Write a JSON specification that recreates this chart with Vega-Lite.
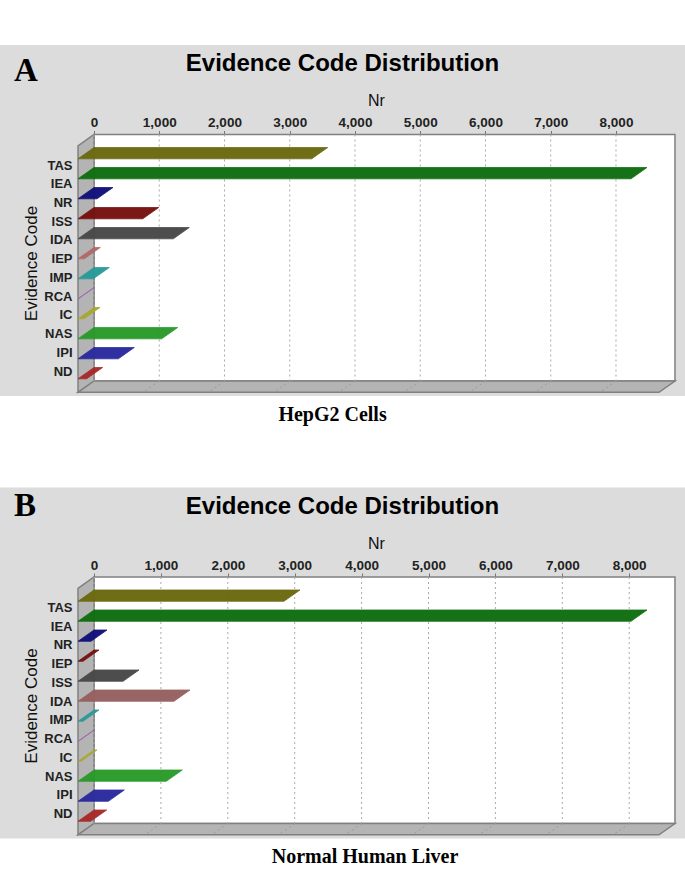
{
"$schema":"https://vega.github.io/schema/vega-lite/v6.json",
"background":"white",
"padding":{"left":0,"top":45,"right":0,"bottom":0},
"spacing":62.5,
"resolve":{"scale":{"color":"independent","stroke":"independent"}},
"config":{"view":{"fill":"#dcdcdc","stroke":null},"font":"Liberation Sans"},
"datasets":{"ticks":[{"tick":0},{"tick":1000},{"tick":2000},{"tick":3000},{"tick":4000},{"tick":5000},{"tick":6000},{"tick":7000},{"tick":8000}]},
"vconcat":[
{"width":685,"height":351,
"title":{"text":"Evidence Code Distribution","font":"Liberation Sans","fontSize":24,"fontWeight":"bold","color":"#000000","anchor":"middle","orient":"top","offset":-31},
"resolve":{"scale":{"y":"independent"}},
"layer":[
{"layer":[
{"data":{"values":[{"part":"back wall"}]},"mark":{"type":"rect","fill":"#ffffff","stroke":"#808080","strokeWidth":1.5},
 "encoding":{"x":{"datum":0,"type":"quantitative","scale":{"domain":[-1440.6,9057.5],"zero":false,"nice":false},"axis":{"orient":"top","offset":-89.5,"values":[0,1000,2000,3000,4000,5000,6000,7000,8000],"labelExpr":"format(datum.value, ',')","title":"Nr","titleFont":"Liberation Sans","titleFontSize":16,"titleFontWeight":"normal","titleColor":"#111111","titlePadding":7,"titleX":376,"labelFont":"Liberation Sans","labelFontSize":13.5,"labelFontWeight":"bold","labelColor":"#222222","labelPadding":1,"tickSize":4,"tickColor":"#777777","domain":false,"grid":false,"labelOverlap":false}},
 "x2":{"datum":8904},
 "y":{"datum":0.35,"type":"quantitative","scale":{"domain":[13.425,-4.125],"zero":false,"nice":false},"axis":null},"y2":{"datum":12.675}}},
{"data":{"values":[{"nr":-245,"a":0.915,"b":13.24},{"nr":0,"a":0.35,"b":12.675}]},"mark":{"type":"area","orient":"vertical","fill":"#b4b4b4","stroke":"#808080","strokeWidth":1.5},
 "encoding":{"x":{"field":"nr","type":"quantitative"},"y":{"field":"a","type":"quantitative","axis":null},"y2":{"field":"b"}}},
{"data":{"values":[{"v":12.675,"a":0,"b":8904},{"v":13.24,"a":-245,"b":8659}]},"mark":{"type":"area","orient":"horizontal","fill":"#b4b4b4","stroke":"#808080","strokeWidth":1.5},
 "encoding":{"y":{"field":"v","type":"quantitative","axis":null},"x":{"field":"a","type":"quantitative"},"x2":{"field":"b"}}},
{"data":{"name":"ticks"},"mark":{"type":"rule","color":"#aaaaaa","strokeDash":[2,3],"strokeWidth":1},
 "encoding":{"x":{"field":"tick","type":"quantitative"},"y":{"datum":0.35,"type":"quantitative","axis":null},"y2":{"datum":12.675}}},
{"data":{"name":"ticks"},"transform":[{"filter":"datum.tick>0"},{"calculate":"datum.tick-245","as":"front"}],"mark":{"type":"rule","color":"#999999","strokeDash":[2,3],"strokeWidth":1},
 "encoding":{"x":{"field":"tick","type":"quantitative"},"x2":{"field":"front"},"y":{"datum":12.675,"type":"quantitative","axis":null},"y2":{"datum":13.24}}},
{"data":{"values":[{"code":"TAS","nr":3582},{"code":"IEA","nr":8475},{"code":"NR","nr":291},{"code":"ISS","nr":992},{"code":"IDA","nr":1461},{"code":"IEP","nr":97},{"code":"IMP","nr":235},{"code":"RCA","nr":5},{"code":"IC","nr":92},{"code":"NAS","nr":1283},{"code":"IPI","nr":618},{"code":"ND","nr":133}]},
 "transform":[{"window":[{"op":"row_number","as":"row"}]},{"calculate":"[0,1]","as":"edge"},{"flatten":["edge"]},{"calculate":"datum.row+datum.edge*0.565","as":"by"},{"calculate":"datum.edge*-245","as":"bx"},{"calculate":"datum.nr+datum.bx","as":"bx2"}],
 "mark":{"type":"area","orient":"horizontal","opacity":0.97,"strokeWidth":0.8},
 "encoding":{"y":{"field":"by","type":"quantitative","axis":null},"x":{"field":"bx","type":"quantitative"},"x2":{"field":"bx2"},
 "color":{"field":"code","type":"nominal","legend":null,"scale":{"domain":["TAS","IEA","NR","ISS","IDA","IEP","IMP","RCA","IC","NAS","IPI","ND"],"range":["#6b6a10","#0f6e0f","#10107a","#761010","#484848","#b06a6a","#2a9a9a","#a060b0","#a8a830","#2a9a2a","#2a2a9e","#a82a2a"]}},
 "stroke":{"field":"code","type":"nominal","legend":null,"scale":{"domain":["TAS","IEA","NR","ISS","IDA","IEP","IMP","RCA","IC","NAS","IPI","ND"],"range":["#6b6a10","#0f6e0f","#10107a","#761010","#484848","#b06a6a","#2a9a9a","#a060b0","#a8a830","#2a9a2a","#2a2a9e","#a82a2a"]}}}},
{"data":{"values":[{"label":"A"}]},"mark":{"type":"text","font":"Liberation Serif","fontWeight":"bold","fontSize":33,"align":"left","baseline":"middle","color":"#000000"},
 "encoding":{"text":{"field":"label"},"x":{"datum":-1226,"type":"quantitative"},"y":{"datum":-2.85,"type":"quantitative","axis":null}}},
{"data":{"values":[{"label":"HepG2 Cells"}]},"mark":{"type":"text","font":"Liberation Serif","fontWeight":"bold","fontSize":20,"align":"center","baseline":"middle","color":"#000000"},
 "encoding":{"text":{"field":"label"},"x":{"datum":3656,"type":"quantitative"},"y":{"datum":14.35,"type":"quantitative","axis":null}}}
]},
{"data":{"values":[{"code":"TAS"},{"code":"IEA"},{"code":"NR"},{"code":"ISS"},{"code":"IDA"},{"code":"IEP"},{"code":"IMP"},{"code":"RCA"},{"code":"IC"},{"code":"NAS"},{"code":"IPI"},{"code":"ND"}]},
 "mark":{"type":"point","opacity":0},
 "encoding":{"y":{"field":"code","type":"nominal","sort":null,"scale":{"type":"point","padding":0,"range":[120,326]},"axis":{"orient":"left","offset":-72,"title":"Evidence Code","titleFont":"Liberation Sans","titleFontSize":17,"titleFontWeight":"normal","titleColor":"#111111","titleX":-32,"titleY":218,"labelFont":"Liberation Sans","labelFontSize":13,"labelFontWeight":"bold","labelColor":"#222222","labelPadding":0,"ticks":false,"domain":false,"grid":false,"labelOverlap":false}}}}
]},
{"width":685,"height":351,
"title":{"text":"Evidence Code Distribution","font":"Liberation Sans","fontSize":24,"fontWeight":"bold","color":"#000000","anchor":"middle","orient":"top","offset":-31},
"resolve":{"scale":{"y":"independent"}},
"layer":[
{"layer":[
{"data":{"values":[{"part":"back wall"}]},"mark":{"type":"rect","fill":"#ffffff","stroke":"#808080","strokeWidth":1.5},
 "encoding":{"x":{"datum":0,"type":"quantitative","scale":{"domain":[-1405,8834],"zero":false,"nice":false},"axis":{"orient":"top","offset":-89.5,"values":[0,1000,2000,3000,4000,5000,6000,7000,8000],"labelExpr":"format(datum.value, ',')","title":"Nr","titleFont":"Liberation Sans","titleFontSize":16,"titleFontWeight":"normal","titleColor":"#111111","titlePadding":7,"titleX":376,"labelFont":"Liberation Sans","labelFontSize":13.5,"labelFontWeight":"bold","labelColor":"#222222","labelPadding":1,"tickSize":4,"tickColor":"#777777","domain":false,"grid":false,"labelOverlap":false}},
 "x2":{"datum":8684},
 "y":{"datum":0.35,"type":"quantitative","scale":{"domain":[13.425,-4.125],"zero":false,"nice":false},"axis":null},"y2":{"datum":12.675}}},
{"data":{"values":[{"nr":-239,"a":0.915,"b":13.24},{"nr":0,"a":0.35,"b":12.675}]},"mark":{"type":"area","orient":"vertical","fill":"#b4b4b4","stroke":"#808080","strokeWidth":1.5},
 "encoding":{"x":{"field":"nr","type":"quantitative"},"y":{"field":"a","type":"quantitative","axis":null},"y2":{"field":"b"}}},
{"data":{"values":[{"v":12.675,"a":0,"b":8684},{"v":13.24,"a":-239,"b":8445}]},"mark":{"type":"area","orient":"horizontal","fill":"#b4b4b4","stroke":"#808080","strokeWidth":1.5},
 "encoding":{"y":{"field":"v","type":"quantitative","axis":null},"x":{"field":"a","type":"quantitative"},"x2":{"field":"b"}}},
{"data":{"name":"ticks"},"mark":{"type":"rule","color":"#aaaaaa","strokeDash":[2,3],"strokeWidth":1},
 "encoding":{"x":{"field":"tick","type":"quantitative"},"y":{"datum":0.35,"type":"quantitative","axis":null},"y2":{"datum":12.675}}},
{"data":{"name":"ticks"},"transform":[{"filter":"datum.tick>0"},{"calculate":"datum.tick-239","as":"front"}],"mark":{"type":"rule","color":"#999999","strokeDash":[2,3],"strokeWidth":1},
 "encoding":{"x":{"field":"tick","type":"quantitative"},"x2":{"field":"front"},"y":{"datum":12.675,"type":"quantitative","axis":null},"y2":{"datum":13.24}}},
{"data":{"values":[{"code":"TAS","nr":3079},{"code":"IEA","nr":8266},{"code":"NR","nr":194},{"code":"IEP","nr":75},{"code":"ISS","nr":673},{"code":"IDA","nr":1435},{"code":"IMP","nr":75},{"code":"RCA","nr":5},{"code":"IC","nr":45},{"code":"NAS","nr":1320},{"code":"IPI","nr":453},{"code":"ND","nr":190}]},
 "transform":[{"window":[{"op":"row_number","as":"row"}]},{"calculate":"[0,1]","as":"edge"},{"flatten":["edge"]},{"calculate":"datum.row+datum.edge*0.565","as":"by"},{"calculate":"datum.edge*-239","as":"bx"},{"calculate":"datum.nr+datum.bx","as":"bx2"}],
 "mark":{"type":"area","orient":"horizontal","opacity":0.97,"strokeWidth":0.8},
 "encoding":{"y":{"field":"by","type":"quantitative","axis":null},"x":{"field":"bx","type":"quantitative"},"x2":{"field":"bx2"},
 "color":{"field":"code","type":"nominal","legend":null,"scale":{"domain":["TAS","IEA","NR","IEP","ISS","IDA","IMP","RCA","IC","NAS","IPI","ND"],"range":["#6b6a10","#0f6e0f","#10107a","#761010","#484848","#966060","#2a9a9a","#a060b0","#a8a830","#2a9a2a","#2a2a9e","#a82a2a"]}},
 "stroke":{"field":"code","type":"nominal","legend":null,"scale":{"domain":["TAS","IEA","NR","IEP","ISS","IDA","IMP","RCA","IC","NAS","IPI","ND"],"range":["#6b6a10","#0f6e0f","#10107a","#761010","#484848","#966060","#2a9a9a","#a060b0","#a8a830","#2a9a2a","#2a2a9e","#a82a2a"]}}}},
{"data":{"values":[{"label":"B"}]},"mark":{"type":"text","font":"Liberation Serif","fontWeight":"bold","fontSize":33,"align":"left","baseline":"middle","color":"#000000"},
 "encoding":{"text":{"field":"label"},"x":{"datum":-1196,"type":"quantitative"},"y":{"datum":-3.2,"type":"quantitative","axis":null}}},
{"data":{"values":[{"label":"Normal Human Liver"}]},"mark":{"type":"text","font":"Liberation Serif","fontWeight":"bold","fontSize":20,"align":"center","baseline":"middle","color":"#000000"},
 "encoding":{"text":{"field":"label"},"x":{"datum":4051,"type":"quantitative"},"y":{"datum":14.35,"type":"quantitative","axis":null}}}
]},
{"data":{"values":[{"code":"TAS"},{"code":"IEA"},{"code":"NR"},{"code":"IEP"},{"code":"ISS"},{"code":"IDA"},{"code":"IMP"},{"code":"RCA"},{"code":"IC"},{"code":"NAS"},{"code":"IPI"},{"code":"ND"}]},
 "mark":{"type":"point","opacity":0},
 "encoding":{"y":{"field":"code","type":"nominal","sort":null,"scale":{"type":"point","padding":0,"range":[120,326]},"axis":{"orient":"left","offset":-72,"title":"Evidence Code","titleFont":"Liberation Sans","titleFontSize":17,"titleFontWeight":"normal","titleColor":"#111111","titleX":-32,"titleY":218,"labelFont":"Liberation Sans","labelFontSize":13,"labelFontWeight":"bold","labelColor":"#222222","labelPadding":0,"ticks":false,"domain":false,"grid":false,"labelOverlap":false}}}}
]}
]}
